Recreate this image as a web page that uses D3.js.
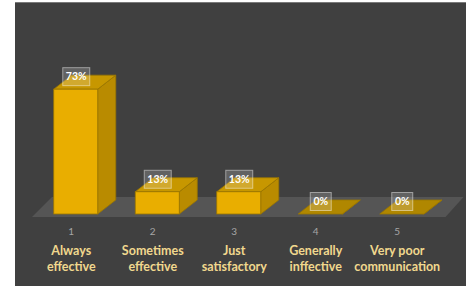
<!DOCTYPE html>
<html>
<head>
<meta charset="utf-8">
<script src="https://cdn.jsdelivr.net/npm/d3@7"></script>
<style>
  body { margin: 0; background: #fff; }
  svg { display: block; }
</style>
</head>
<body>
<script>
// data
var codes = ["1", "2", "3", "4", "5"];
var names = [["Always", "effective"], ["Sometimes", "effective"], ["Just", "satisfactory"],
             ["Generally", "inffective"], ["Very poor", "communication"]];
var values = [0.73, 0.13, 0.13, 0, 0];
var valueLabels = ["73%", "13%", "13%", "0%", "0%"];

var w = 466, h = 286;
var dx = 18, dy = -14;     // depth of the boxes
var base = 214;            // front bottom of bars

var svg = d3.select("body").append("svg")
  .attr("width", w).attr("height", h);

// panel
svg.append("rect").attr("x", 15).attr("y", 2).attr("width", w - 15).attr("height", h - 2)
  .attr("fill", "#404040");
svg.append("line").attr("x1", 15).attr("x2", w).attr("y1", 2.5).attr("y2", 2.5)
  .attr("stroke", "#7a7a7a").attr("stroke-width", 1);

var x = d3.scaleBand().domain(codes).range([35, 442.5])
  .paddingInner(0.46).paddingOuter(0.23);
var y = d3.scaleLinear().domain([0, 1]).range([base, base - 171]);

// floor
var fl = x.range()[0] - 3, fr = x.range()[1] + 3;
svg.append("path")
  .attr("d", "M" + fl + "," + (base + 3) + "L" + fr + "," + (base + 3) +
             "L" + (fr + 18) + "," + (base - 17) + "L" + (fl + 20) + "," + (base - 17) + "Z")
  .attr("fill", "#555555");

var bw = x.bandwidth();
var g = svg.selectAll("g.bar").data(codes).enter().append("g").attr("class", "bar");

// side face
g.append("path")
  .attr("d", function(d, i) {
    var x1 = x(d) + bw, t = y(values[i]);
    return "M" + x1 + "," + base + "L" + (x1 + dx) + "," + (base + dy) +
           "L" + (x1 + dx) + "," + (t + dy) + "L" + x1 + "," + t + "Z";
  })
  .attr("fill", "#b98b00").attr("stroke", "#9a7600").attr("stroke-width", 0.8);

// top face
g.append("path")
  .attr("d", function(d, i) {
    var x0 = x(d), t = y(values[i]);
    return "M" + x0 + "," + t + "L" + (x0 + bw) + "," + t +
           "L" + (x0 + bw + dx) + "," + (t + dy) + "L" + (x0 + dx) + "," + (t + dy) + "Z";
  })
  .attr("fill", function(d, i) { return values[i] > 0 ? "#c79700" : "#b08700"; })
  .attr("stroke", "#9a7600").attr("stroke-width", 0.8);

// front face
g.filter(function(d, i) { return values[i] > 0; })
  .append("rect")
  .attr("x", function(d) { return x(d); })
  .attr("y", function(d) { return y(values[codes.indexOf(d)]); })
  .attr("width", bw)
  .attr("height", function(d) { return base - y(values[codes.indexOf(d)]); })
  .attr("fill", "#e9ae00").attr("stroke", "#9a7600").attr("stroke-width", 0.8);

// data labels
var lab = svg.selectAll("g.lab").data(codes).enter().append("g").attr("class", "lab")
  .attr("transform", function(d, i) {
    return "translate(" + (x(d) + bw / 2 + 0.5) + "," + (y(values[i]) - 12.5) + ")";
  });
lab.append("rect")
  .attr("x", function(d, i) { return valueLabels[i].length > 2 ? -13.5 : -10.5; })
  .attr("y", -9)
  .attr("width", function(d, i) { return valueLabels[i].length > 2 ? 27 : 21; })
  .attr("height", 18)
  .attr("fill", "rgba(255,255,255,0.18)")
  .attr("stroke", "rgba(255,255,255,0.45)").attr("stroke-width", 1);
lab.append("text")
  .attr("text-anchor", "middle").attr("dy", "0.35em")
  .attr("font-family", "Lato, 'Open Sans', sans-serif").attr("font-weight", "bold")
  .attr("font-size", 10.5).attr("fill", "#ffffff")
  .text(function(d, i) { return valueLabels[i]; });

// axis labels
var ax = svg.selectAll("g.ax").data(codes).enter().append("g").attr("class", "ax")
  .attr("transform", function(d) { return "translate(" + (x(d) + bw / 2 - 4.5) + ",0)"; });
ax.append("text")
  .attr("y", 235).attr("text-anchor", "middle")
  .attr("font-family", "Lato, 'Open Sans', sans-serif").attr("font-size", 10)
  .attr("fill", "#a6a6a6")
  .text(function(d) { return d; });
ax.each(function(d, i) {
  var t = d3.select(this).append("text")
    .attr("text-anchor", "middle")
    .attr("font-family", "Lato, 'Open Sans', sans-serif").attr("font-weight", "bold")
    .attr("font-size", 12.5).attr("fill", "#f1d88e");
  names[i].forEach(function(s, k) {
    t.append("tspan").attr("x", 0).attr("y", 254.5 + k * 16.5).text(s);
  });
});
</script>
</body>
</html>
